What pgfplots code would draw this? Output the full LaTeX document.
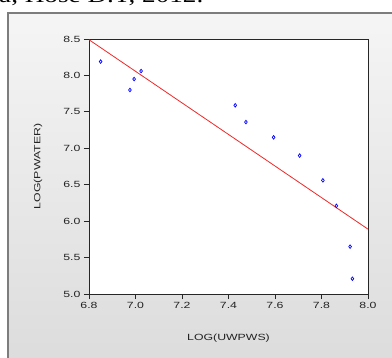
\documentclass[border=0pt]{standalone}
\usepackage{pgfplots}
\pgfplotsset{compat=1.18}
\usepackage{fontspec}
\setmainfont{Liberation Sans}[FakeStretch=1.37]
\newfontfamily\serifstretch{Liberation Serif}[FakeStretch=1.3]
\definecolor{framegray}{RGB}{125,125,125}
\definecolor{bgtop}{RGB}{245,245,245}
\definecolor{bgbot}{RGB}{220,220,220}
\definecolor{regred}{RGB}{240,40,40}
\definecolor{txt}{RGB}{35,35,35}
\begin{document}
\begin{tikzpicture}
\useasboundingbox (0,0) rectangle (392bp,358bp);
\fill[white] (0,0) rectangle (392bp,358bp);
\shade[top color=bgtop, bottom color=bgbot] (8bp,-5bp) rectangle (400bp,345bp);
\draw[framegray, line width=1.5bp] (8bp,-5bp) -- (8bp,345bp) -- (400bp,345bp);
\begin{scope}
\clip (0,0) rectangle (392bp,358bp);
\node[anchor=base west, inner sep=0, text=black, font=\serifstretch\fontsize{21}{22}\selectfont] at (-1bp,355bp) {a, Hose D.T, 2012.};
\end{scope}
\begin{axis}[
  at={(89bp,64bp)}, anchor=south west,
  scale only axis, width=279bp, height=255bp,
  xmin=6.8, xmax=8.0, ymin=5.0, ymax=8.5,
  axis background/.style={fill=white},
  axis line style={draw=black!85, line width=0.8bp},
  tick align=outside, tick pos=left, major tick length=5bp,
  tick style={black!85, line width=0.8bp},
  xtick={6.8,7.0,7.2,7.4,7.6,7.8,8.0},
  ytick={5.0,5.5,6.0,6.5,7.0,7.5,8.0,8.5},
  /pgf/number format/assume math mode=true,
  xticklabel style={/pgf/number format/fixed, /pgf/number format/fixed zerofill, /pgf/number format/precision=1},
  yticklabel style={/pgf/number format/fixed, /pgf/number format/fixed zerofill, /pgf/number format/precision=1},
  ticklabel style={font=\fontsize{9}{10}\selectfont, text=txt},
  xlabel={LOG(UWPWS)}, ylabel={LOG(PWATER)},
  label style={font=\fontsize{9}{10}\selectfont, text=txt},
  xlabel style={at={(axis description cs:0.5,-0.1725)}, anchor=center},
  ylabel style={at={(axis description cs:-0.1828,0.5)}, anchor=center},
]
\addplot[regred, line width=0.8bp] coordinates {(6.8,8.49) (8.0,5.89)};
\addplot[only marks, mark=diamond, mark size=1.8bp, mark options={solid, draw=blue, fill=white, line width=0.7bp}] coordinates {
(6.85,8.19) (6.976,7.80) (6.994,7.95) (7.024,8.06)
(7.429,7.59) (7.475,7.36) (7.594,7.15) (7.706,6.90)
(7.806,6.56) (7.864,6.21) (7.923,5.65) (7.933,5.21)
};
\end{axis}
\end{tikzpicture}
\end{document}
